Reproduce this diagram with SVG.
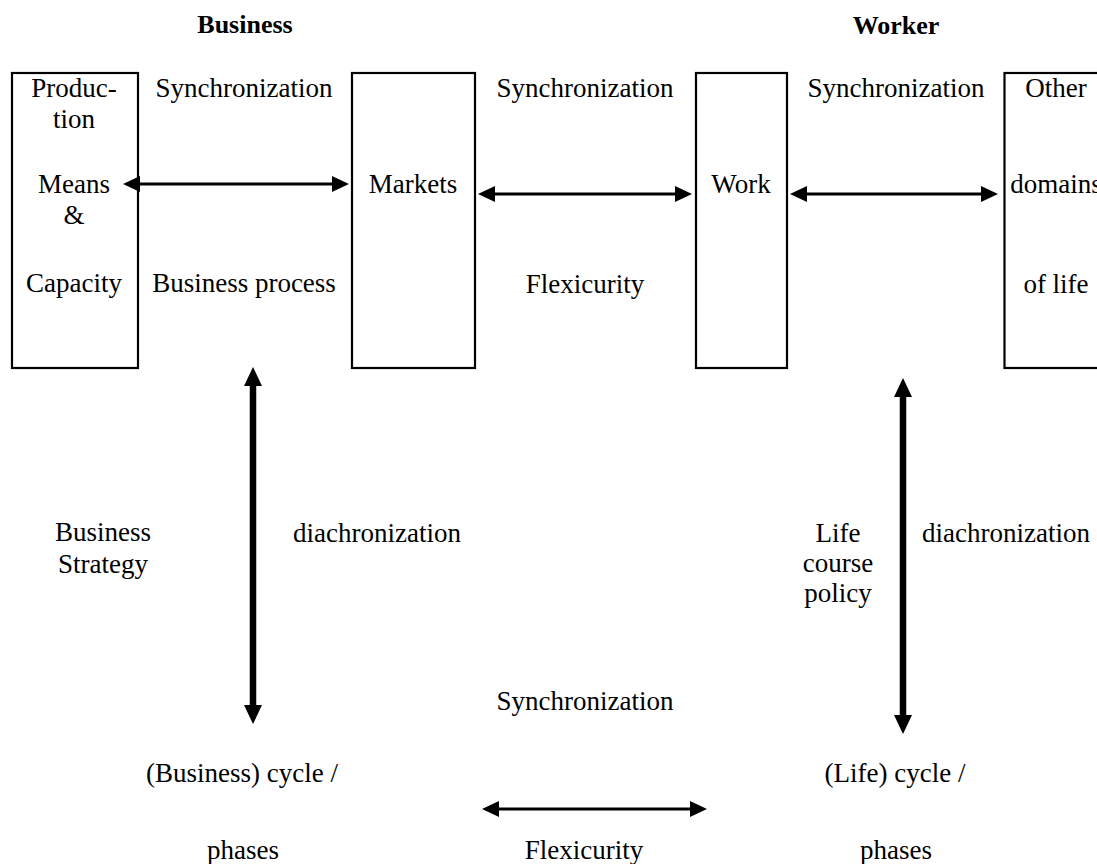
<svg xmlns="http://www.w3.org/2000/svg" width="1097" height="864" viewBox="0 0 1097 864">
<style>
text{font-family:"Liberation Serif","Times New Roman",serif;font-size:27px;fill:#000;text-anchor:middle}
.b{font-weight:bold;font-size:26px}
.box{fill:#fff;stroke:#000;stroke-width:2.2}
.thin{stroke:#000;stroke-width:2.8;fill:none}
.thick{stroke:#000;stroke-width:6.5;fill:none}
</style>
<defs>
<marker id="ah" markerUnits="userSpaceOnUse" markerWidth="17" markerHeight="16" refX="1" refY="8" orient="auto-start-reverse"><path d="M0,0 L17,8 L0,16 Z" fill="#000"/></marker>
<marker id="ahk" markerUnits="userSpaceOnUse" markerWidth="19" markerHeight="18" refX="1" refY="9" orient="auto-start-reverse"><path d="M0,0 L19,9 L0,18 Z" fill="#000"/></marker>
</defs>
<rect width="1097" height="864" fill="#fff"/>
<g id="headers">
<text class="b" x="245" y="33">Business</text>
<text class="b" x="896" y="34">Worker</text>
</g>
<g id="node-production">
<rect class="box" x="12" y="73" width="126" height="295"/>
<text x="74" y="97">Produc-</text>
<text x="74" y="128">tion</text>
<text x="74" y="193">Means</text>
<text x="74" y="224">&amp;</text>
<text x="74" y="292">Capacity</text>
</g>
<g id="node-markets">
<rect class="box" x="352" y="73" width="123" height="295"/>
<text x="413" y="193">Markets</text>
</g>
<g id="node-work">
<rect class="box" x="696" y="73" width="91" height="295"/>
<text x="741" y="193">Work</text>
</g>
<g id="node-other">
<rect class="box" x="1004.5" y="73" width="110" height="295"/>
<text x="1056" y="97">Other</text>
<text x="1056" y="193">domains</text>
<text x="1056" y="293">of life</text>
</g>
<g id="node-business-cycle">
<text x="242" y="782">(Business) cycle /</text>
<text x="243" y="859">phases</text>
</g>
<g id="node-life-cycle">
<text x="895" y="782">(Life) cycle /</text>
<text x="896" y="859">phases</text>
</g>
<g id="connectors">
<line class="thin" x1="139" y1="184" x2="333" y2="184" marker-start="url(#ah)" marker-end="url(#ah)"/>
<line class="thin" x1="494" y1="194" x2="676" y2="194" marker-start="url(#ah)" marker-end="url(#ah)"/>
<line class="thin" x1="806" y1="194" x2="982" y2="194" marker-start="url(#ah)" marker-end="url(#ah)"/>
<line class="thin" x1="498" y1="809" x2="691" y2="809" marker-start="url(#ah)" marker-end="url(#ah)"/>
<line class="thick" x1="253" y1="385" x2="253" y2="706" marker-start="url(#ahk)" marker-end="url(#ahk)"/>
<line class="thick" x1="903" y1="396" x2="903" y2="716" marker-start="url(#ahk)" marker-end="url(#ahk)"/>
</g>
<g id="labels">
<text x="244" y="97">Synchronization</text>
<text x="244" y="292">Business process</text>
<text x="585" y="97">Synchronization</text>
<text x="585" y="293">Flexicurity</text>
<text x="896" y="97">Synchronization</text>
<text x="103" y="541">Business</text>
<text x="103" y="573">Strategy</text>
<text x="377" y="542">diachronization</text>
<text x="838" y="542">Life</text>
<text x="838" y="572">course</text>
<text x="838" y="602">policy</text>
<text x="1006" y="542">diachronization</text>
<text x="585" y="710">Synchronization</text>
<text x="584" y="859">Flexicurity</text>
</g>
</svg>
